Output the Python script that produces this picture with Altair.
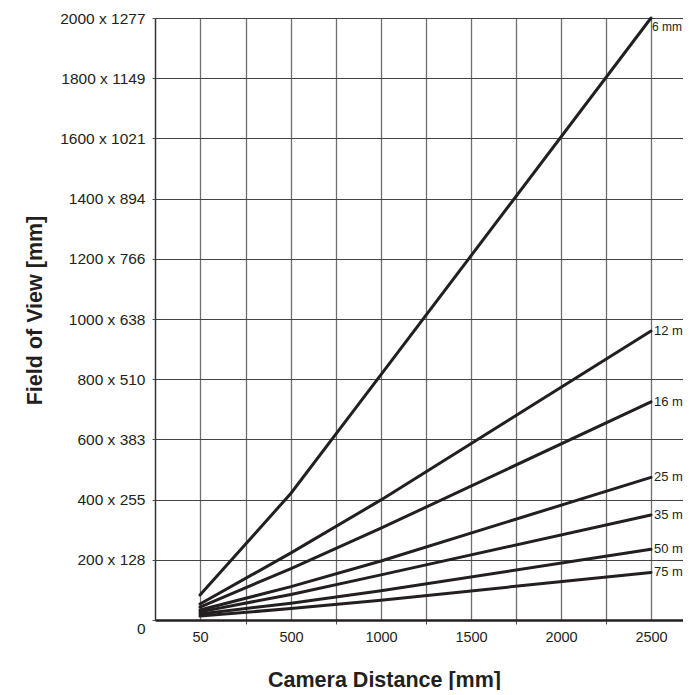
import altair as alt
import pandas as pd

# ---- data ----
distances = [50, 500, 1000, 2500]
lenses = ["6 mm", "12 mm", "16 mm", "25 mm", "35 mm", "50 mm", "75 mm"]
fov_6 = [83, 421, 815, 2000]
fov_12 = [53, 223, 399, 960]
fov_16 = [43, 171, 305, 725]
fov_25 = [33, 111, 196, 474]
fov_35 = [27, 85, 150, 349]
fov_50 = [20, 56, 97, 235]
fov_75 = [13, 38, 66, 158]
series = [fov_6, fov_12, fov_16, fov_25, fov_35, fov_50, fov_75]

y_tick_values = [0, 200, 400, 600, 800, 1000, 1200, 1400, 1600, 1800, 2000]
y_tick_labels = ["0", "200 x 128", "400 x 255", "600 x 383", "800 x 510", "1000 x 638",
                 "1200 x 766", "1400 x 894", "1600 x 1021", "1800 x 1149", "2000 x 1277"]
x_tick_labels = [50, 500, 1000, 1500, 2000, 2500]
x_grid_values = [50, 275, 500, 750, 1000, 1250, 1500, 1750, 2000, 2250, 2500, 2750]
y_grid_values = list(range(0, 2001, 100))

rows = []
for lens, vals in zip(lenses, series):
    for d, v in zip(distances, vals):
        rows.append({"lens": lens, "distance": d, "fov": v})
df = pd.DataFrame(rows)
ends = df[df["distance"] == distances[-1]].copy()

INK = "#231f20"

# label expressions built from the lists
ylab = "''"
for v, t in zip(reversed(y_tick_values), reversed(y_tick_labels)):
    ylab = f"datum.value == {v} ? '{t}' : ({ylab})"
xlab_test = " || ".join(f"datum.value == {v}" for v in x_tick_labels)

x_scale = alt.Scale(domain=[-250, 50, 500, 2750], range=[0, 45, 136, 541], nice=False, zero=False)
y_scale = alt.Scale(domain=[0, 2000], nice=False, zero=True)

x_axis = alt.Axis(
    values=x_grid_values,
    labelExpr=f"({xlab_test}) ? datum.label : ''",
    format="d",
    grid=True, gridColor="#6e6e6e", gridWidth=1.3,
    tickSize=4, tickColor="#555555", tickWidth=1,
    tickOpacity={"condition": {"test": xlab_test, "value": 0}, "value": 1},
    labelFont="Liberation Sans", labelFontSize=14.5, labelColor=INK,
    labelPadding=6, labelFlush=False, labelOverlap=False,
    domainColor=INK, domainWidth=2.5,
    title="Camera Distance [mm]", titleFont="Liberation Sans", titleFontSize=21.5,
    titleFontWeight="bold", titleColor=INK, titleX=229, titleY=66,
    titleBaseline="alphabetic", titleAlign="center",
)
y_axis = alt.Axis(
    values=y_grid_values,
    labelExpr=ylab,
    grid=True, gridColor="#444444", gridWidth=1,
    tickSize=3, tickColor="#555555", tickWidth=1,
    labelFont="Liberation Sans", labelFontSize=15.5, labelColor=INK,
    labelPadding=7, labelFlush=False, labelOverlap=False,
    labelOffset={"expr": "datum.value == 0 ? 8 : 0"},
    domainColor="#333333", domainWidth=1.5,
    title="Field of View [mm]", titleFont="Liberation Sans", titleFontSize=21.5,
    titleFontWeight="bold", titleColor=INK, titleAngle=-90,
    titleX=-114, titleY=292, titleBaseline="alphabetic", titleAlign="center",
)

base = alt.Chart(df)
lines = base.mark_line(color=INK, strokeWidth=3, strokeCap="round").encode(
    x=alt.X("distance:Q", scale=x_scale, axis=x_axis),
    y=alt.Y("fov:Q", scale=y_scale, axis=y_axis),
    detail="lens:N",
    order="distance:Q",
)

lab_small = alt.Chart(ends[ends["lens"] == lenses[0]]).mark_text(
    align="left", baseline="middle", dx=1, dy=9, font="Liberation Sans", fontSize=12, color=INK
).encode(x=alt.X("distance:Q", scale=x_scale), y=alt.Y("fov:Q", scale=y_scale), text="lens:N")

lab_rest = alt.Chart(ends[ends["lens"] != lenses[0]]).mark_text(
    align="left", baseline="middle", dx=3, font="Liberation Sans", fontSize=13, color=INK
).encode(x=alt.X("distance:Q", scale=x_scale), y=alt.Y("fov:Q", scale=y_scale), text="lens:N")

chart = alt.layer(lines, lab_small, lab_rest).properties(
    width=528, height=602,
    autosize=alt.AutoSizeParams(type="none"),
    padding={"left": 147, "top": 10, "right": 0, "bottom": 70},
).configure_view(stroke=INK, strokeWidth=2).configure(background="white")

chart.save("out.html", embed_options={"renderer": "svg", "actions": False})
